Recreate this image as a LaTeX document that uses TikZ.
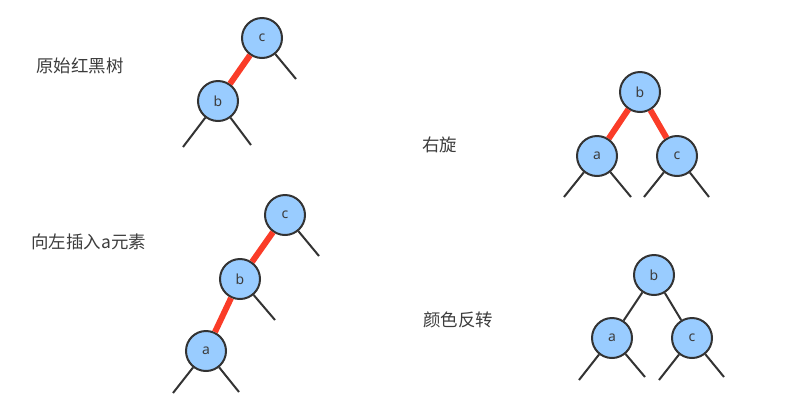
\documentclass[tikz,border=0pt]{standalone}
\usepackage{fontspec}
\setmainfont{Noto Sans CJK SC}
\setsansfont{Noto Sans}
\definecolor{NodeBlue}{RGB}{153, 204, 255}
\definecolor{EdgeRed}{RGB}{250, 60, 40}
\definecolor{LineGrey}{RGB}{51, 51, 51}
\definecolor{TextGrey}{RGB}{60, 60, 60}
\tikzset{
  rbnode/.style={circle, draw=LineGrey, line width=2bp, fill=NodeBlue,
    minimum size=40bp, inner sep=0pt, text=TextGrey, font=\sffamily\fontsize{14}{14}\selectfont},
  rededge/.style={draw=EdgeRed, line width=6bp},
  blackedge/.style={draw=LineGrey, line width=2bp},
  caption/.style={text=TextGrey, font=\fontsize{17.5}{17.5}\selectfont, anchor=west}
}
\begin{document}
\begin{tikzpicture}[x=1bp, y=-1bp]
    \useasboundingbox (0,0) rectangle (796,411);

    % Labels
    \node[caption] (t1) at (33,66) {原始红黑树};
    \node[caption] (t2) at (28,242) {向左插入a元素};
    \node[caption] (t3) at (419,145) {右旋};
    \node[caption] (t4) at (420,320) {颜色反转};

    % Tree 1
    \node[rbnode] (c1) at (262,38) {c};
    \node[rbnode] (b1) at (218,101) {b};
    \coordinate (c1r) at (296,79);
    \coordinate (b1l) at (183,147);
    \coordinate (b1r) at (251,145);
    \draw[rededge] (c1) -- (b1);
    \draw[blackedge] (c1) -- (c1r);
    \draw[blackedge] (b1) -- (b1l);
    \draw[blackedge] (b1) -- (b1r);

    % Tree 2
    \node[rbnode] (c2) at (285,215) {c};
    \node[rbnode] (b2) at (240,279) {b};
    \node[rbnode] (a2) at (206,351) {a};
    \coordinate (c2r) at (319,256);
    \coordinate (b2r) at (275,320);
    \coordinate (a2l) at (173,393);
    \coordinate (a2r) at (239,392);
    \draw[rededge] (c2) -- (b2);
    \draw[rededge] (b2) -- (a2);
    \draw[blackedge] (c2) -- (c2r);
    \draw[blackedge] (b2) -- (b2r);
    \draw[blackedge] (a2) -- (a2l);
    \draw[blackedge] (a2) -- (a2r);

    % Tree 3
    \node[rbnode] (b3) at (640,92) {b};
    \node[rbnode] (a3) at (597,156) {a};
    \node[rbnode] (c3) at (677,156) {c};
    \coordinate (a3l) at (564,197);
    \coordinate (a3r) at (631,197);
    \coordinate (c3l) at (644,197);
    \coordinate (c3r) at (709,197);
    \draw[rededge] (b3) -- (a3);
    \draw[rededge] (b3) -- (c3);
    \draw[blackedge] (a3) -- (a3l);
    \draw[blackedge] (a3) -- (a3r);
    \draw[blackedge] (c3) -- (c3l);
    \draw[blackedge] (c3) -- (c3r);

    % Tree 4
    \node[rbnode] (b4) at (654,275) {b};
    \node[rbnode] (a4) at (612,338) {a};
    \node[rbnode] (c4) at (692,338) {c};
    \coordinate (a4l) at (579,380);
    \coordinate (a4r) at (645,377);
    \coordinate (c4l) at (659,380);
    \coordinate (c4r) at (724,377);
    \draw[blackedge] (b4) -- (a4);
    \draw[blackedge] (b4) -- (c4);
    \draw[blackedge] (a4) -- (a4l);
    \draw[blackedge] (a4) -- (a4r);
    \draw[blackedge] (c4) -- (c4l);
    \draw[blackedge] (c4) -- (c4r);
  \end{tikzpicture}
\end{document}
